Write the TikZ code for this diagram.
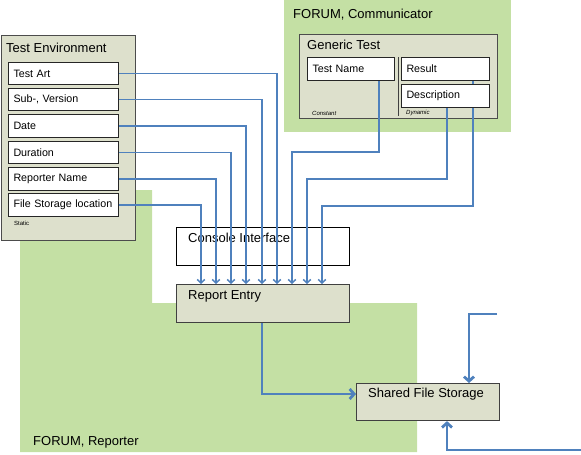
\documentclass[tikz,border=0pt]{standalone}
\usepackage{fontspec}
\setmainfont{Liberation Sans}
\usetikzlibrary{arrows.meta}
\definecolor{grn}{RGB}{196,224,164}
\definecolor{panel}{RGB}{221,224,204}
\definecolor{lnk}{RGB}{79,129,189}
\tikzset{
  panelbox/.style={draw=black!70, line width=1.1pt, fill=panel, anchor=north west, inner sep=0pt},
  plainbox/.style={draw=black, line width=0.9pt, fill=white, anchor=north west, inner sep=0pt},
  fieldbox/.style={draw=black!85, line width=1pt, fill=white, anchor=north west, inner xsep=5pt, inner ysep=0pt, align=left, font=\fontsize{10.7}{12}\selectfont},
  title/.style={anchor=base west, inner sep=0pt, font=\fontsize{13}{15}\selectfont},
  tinytext/.style={anchor=west, inner sep=0pt, font=\fontsize{6}{7}\selectfont},
  link/.style={draw=lnk, line width=1.5pt, -{Straight Barb[length=3.5pt,width=7.5pt]}},
  biglink/.style={draw=lnk, line width=2.8pt, -{Straight Barb[length=4.5pt,width=10pt]}},
}
\begin{document}
\begin{tikzpicture}[x=1pt,y=-1pt]
\useasboundingbox (0,0) rectangle (581,455);
% green areas
\fill[grn] (20,190) -- (152,190) -- (152,303) -- (417,303) -- (417,452) -- (20,452) -- cycle;
\fill[grn] (284,0) rectangle (511,132);
\node[title] (rep) at (33,445) {FORUM, Reporter};
\node[title] (com) at (293,18) {FORUM, Communicator};
% test environment
\node[panelbox, minimum width=134pt, minimum height=205pt] (te) at (1,35) {};
\node[title] (tet) at (6,52) {Test Environment};
\node[fieldbox, text width=100pt, minimum height=22pt] (ta) at (8,62) {Test Art};
\node[fieldbox, text width=100pt, minimum height=22pt] (sv) at (8,88) {Sub-, Version};
\node[fieldbox, text width=100pt, minimum height=23pt] (da) at (8,114) {Date};
\node[fieldbox, text width=100pt, minimum height=22pt] (du) at (8,141) {Duration};
\node[fieldbox, text width=100pt, minimum height=23pt] (rn) at (8,167) {Reporter Name};
\node[fieldbox, text width=100pt, minimum height=23pt] (fs) at (8,193) {File Storage location};
\node[tinytext] (st) at (14,223) {Static};
% generic test
\node[panelbox, minimum width=198pt, minimum height=84pt] (gt) at (299,34) {};
\node[title] (gtt) at (307,49) {Generic Test};
\draw[black!75, line width=1pt] (398,57) -- (398,116);
\node[fieldbox, text width=77pt, minimum height=23pt] (tn) at (307,57) {Test Name};
\node[fieldbox, text width=78pt, minimum height=23pt] (rs) at (401,57) {Result};
\node[tinytext, font=\fontsize{6}{7}\selectfont\itshape] (cst) at (312,113) {Constant};
\node[tinytext, font=\fontsize{6}{7}\selectfont\itshape] (dyn) at (406,113) {Dynamic};
% console and report entry
\node[plainbox, minimum width=173pt, minimum height=38pt] (ci) at (176,227) {};
\node[title] (cit) at (188,242) {Console Interface};
\node[panelbox, draw=black!75, minimum width=173pt, minimum height=38pt] (re) at (176,284) {};
\node[title] (ret) at (188,299) {Report Entry};
\node[panelbox, draw=black!75, minimum width=143pt, minimum height=37pt] (sfs) at (356,383) {};
\node[title] (sfst) at (368,397) {Shared File Storage};
% connectors from test environment
\draw[link] (ta.east) -| ([xshift=101pt]re.north west);
\draw[link] (sv.east) -| ([xshift=86pt]re.north west);
\draw[link] (da.east) -| ([xshift=70pt]re.north west);
\draw[link] (du.east) -| ([xshift=55pt]re.north west);
\draw[link] (rn.east) -| ([xshift=40pt]re.north west);
\draw[link] (fs.east) -| ([xshift=25pt]re.north west);
% connectors from generic test
\draw[link] ([xshift=72pt]tn.south west) -- ++(0,71) -| ([xshift=116pt]re.north west);
\draw[link] ([xshift=72pt]rs.south west) -- ++(0,125) -| ([xshift=146pt]re.north west);
\node[fieldbox, text width=78pt, minimum height=23pt] (de) at (401,84) {Description};
\draw[link] ([xshift=46pt]de.south west) -- ++(0,71) -| ([xshift=131pt]re.north west);
% shared file storage
\draw[biglink] ([xshift=86pt]re.south west) |- ([yshift=-11pt]sfs.north west);
\coordinate (c1) at (497,314);
\coordinate (c2) at (581,450);
\draw[biglink] (c1) -| ([xshift=113pt]sfs.north west);
\draw[biglink] (c2) -| ([xshift=91pt]sfs.south west);
\end{tikzpicture}
\end{document}
